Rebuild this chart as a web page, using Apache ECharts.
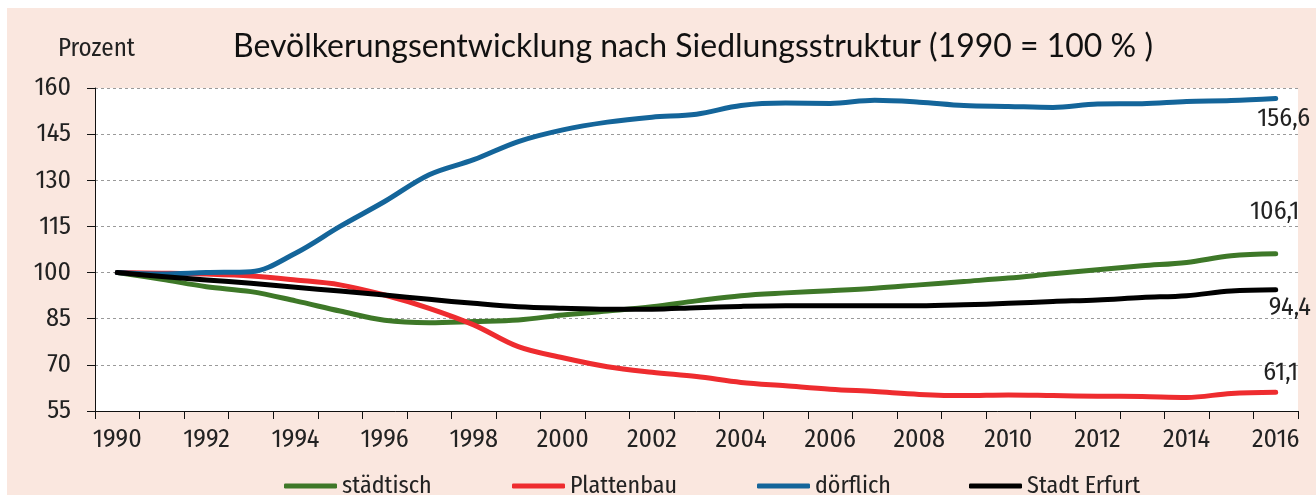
<!DOCTYPE html>
<html>
<head>
<meta charset="utf-8">
<script src="https://cdn.jsdelivr.net/npm/echarts@6/dist/echarts.min.js"></script>
<style>
  html, body { margin: 0; padding: 0; background: #ffffff; }
  #chart { width: 1316px; height: 495px; }
</style>
</head>
<body>
<div id="chart"></div>
<script>
// ---- data ----
const years = ['1990','1991','1992','1993','1994','1995','1996','1997','1998','1999','2000','2001','2002','2003','2004','2005','2006','2007','2008','2009','2010','2011','2012','2013','2014','2015','2016'];
const staedtisch = [100, 97.8, 95.4, 93.8, 90.8, 87.5, 84.5, 83.7, 84.1, 84.6, 86.2, 87.5, 88.9, 90.8, 92.5, 93.4, 94.1, 94.9, 96.0, 97.1, 98.2, 99.6, 100.9, 102.2, 103.3, 105.5, 106.1];
const plattenbau = [100, 99.8, 99.5, 98.9, 97.6, 96.0, 92.7, 88.4, 83.0, 75.9, 72.3, 69.4, 67.6, 66.2, 64.3, 63.2, 62.1, 61.3, 60.4, 60.0, 60.2, 60.0, 59.8, 59.7, 59.4, 60.7, 61.1];
const doerflich = [100, 99.5, 100, 100.3, 106.3, 115.0, 123.1, 131.8, 136.7, 142.6, 146.4, 148.9, 150.5, 151.5, 154.3, 155.1, 155.0, 156.0, 155.4, 154.3, 154.0, 153.7, 154.8, 154.9, 155.6, 155.9, 156.6];
const stadtErfurt = [100, 98.7, 97.6, 96.5, 95.2, 94.0, 92.7, 91.3, 90.0, 88.9, 88.4, 88.1, 88.1, 88.6, 89.0, 89.2, 89.2, 89.2, 89.2, 89.5, 90.0, 90.6, 91.1, 91.9, 92.5, 94.0, 94.4];
const yTicks = [55, 70, 85, 100, 115, 130, 145, 160];
const seriesNames = ['städtisch', 'Plattenbau', 'dörflich', 'Stadt Erfurt'];

const NARROW = '"Fira Sans Condensed", "Roboto Condensed", "DejaVu Sans Condensed", sans-serif';
const fmt = v => v.toFixed(1).replace('.', ',');

function withEndLabel(arr, offset) {
  return arr.map((v, i) => i === arr.length - 1
    ? { value: v, label: { show: true, position: 'inside', offset: offset, formatter: p => fmt(p.value),
        fontFamily: NARROW, fontSize: 26, color: '#222' } }
    : v);
}

function lineSeries(name, arr, color, offset) {
  return {
    name: name, type: 'line', data: withEndLabel(arr, offset),
    smooth: 0.35, showSymbol: true, symbol: 'circle', symbolSize: 0,
    lineStyle: { color: color, width: 5, cap: 'round', join: 'round' },
    itemStyle: { color: color },
    emphasis: { disabled: true }, z: 3
  };
}

const chart = echarts.init(document.getElementById('chart'), null, { renderer: 'canvas' });

const legendBase = (name, left) => ({
  data: [name], left: left, top: 469, orient: 'horizontal',
  icon: 'roundRect', itemWidth: 53, itemHeight: 5, itemGap: 0,
  textStyle: { fontFamily: NARROW, fontSize: 24, color: '#222' },
  selectedMode: false
});

chart.setOption({
  animation: false,
  backgroundColor: 'transparent',
  graphic: [
    { type: 'rect', shape: { x: 7, y: 8, width: 1309, height: 487 }, style: { fill: '#FAE7DF' }, z: -10, silent: true },
    { type: 'rect', shape: { x: 95, y: 88, width: 1203, height: 323 }, style: { fill: '#ffffff' }, z: -9, silent: true },
    { type: 'text', left: 58, top: 37, style: { text: 'Prozent', fontFamily: NARROW, fontSize: 25, fill: '#222' }, z: 5 }
  ],
  title: {
    text: 'Bevölkerungsentwicklung nach Siedlungsstruktur (1990 = 100 % )',
    left: 688, top: 26, textAlign: 'center',
    textStyle: { fontFamily: 'Lato, "Open Sans", sans-serif', fontWeight: 'normal', fontSize: 32, color: '#111' }
  },
  legend: [
    legendBase(seriesNames[0], 279),
    legendBase(seriesNames[1], 507),
    legendBase(seriesNames[2], 752),
    legendBase(seriesNames[3], 964)
  ],
  grid: { left: 95, right: 18, top: 88, bottom: 84, containLabel: false },
  xAxis: {
    type: 'category', data: years, boundaryGap: true,
    axisLine: { show: true, lineStyle: { color: '#111', width: 1 } },
    axisTick: { show: true, interval: 0, length: 8, lineStyle: { color: '#111' } },
    axisLabel: { interval: 1, margin: 16, fontFamily: NARROW, fontSize: 26, color: '#222' },
    splitLine: { show: false }
  },
  yAxis: {
    type: 'value', min: 55, max: 160,
    axisLine: { show: true, lineStyle: { color: '#111', width: 1 } },
    axisTick: { show: true, length: 8, lineStyle: { color: '#111' }, customValues: yTicks },
    axisLabel: { customValues: yTicks, margin: 24, fontFamily: NARROW, fontSize: 26, color: '#222' },
    splitLine: { show: true, lineStyle: { color: '#9a9a9a', type: [3, 3], width: 1 } }
  },
  series: [
    lineSeries(seriesNames[0], staedtisch, '#3E7828', [-1, -42]),
    lineSeries(seriesNames[1], plattenbau, '#EE2C2F', [5, -20]),
    lineSeries(seriesNames[2], doerflich, '#14659A', [8, 20]),
    lineSeries(seriesNames[3], stadtErfurt, '#000000', [14, 18])
  ]
});
</script>
</body>
</html>
